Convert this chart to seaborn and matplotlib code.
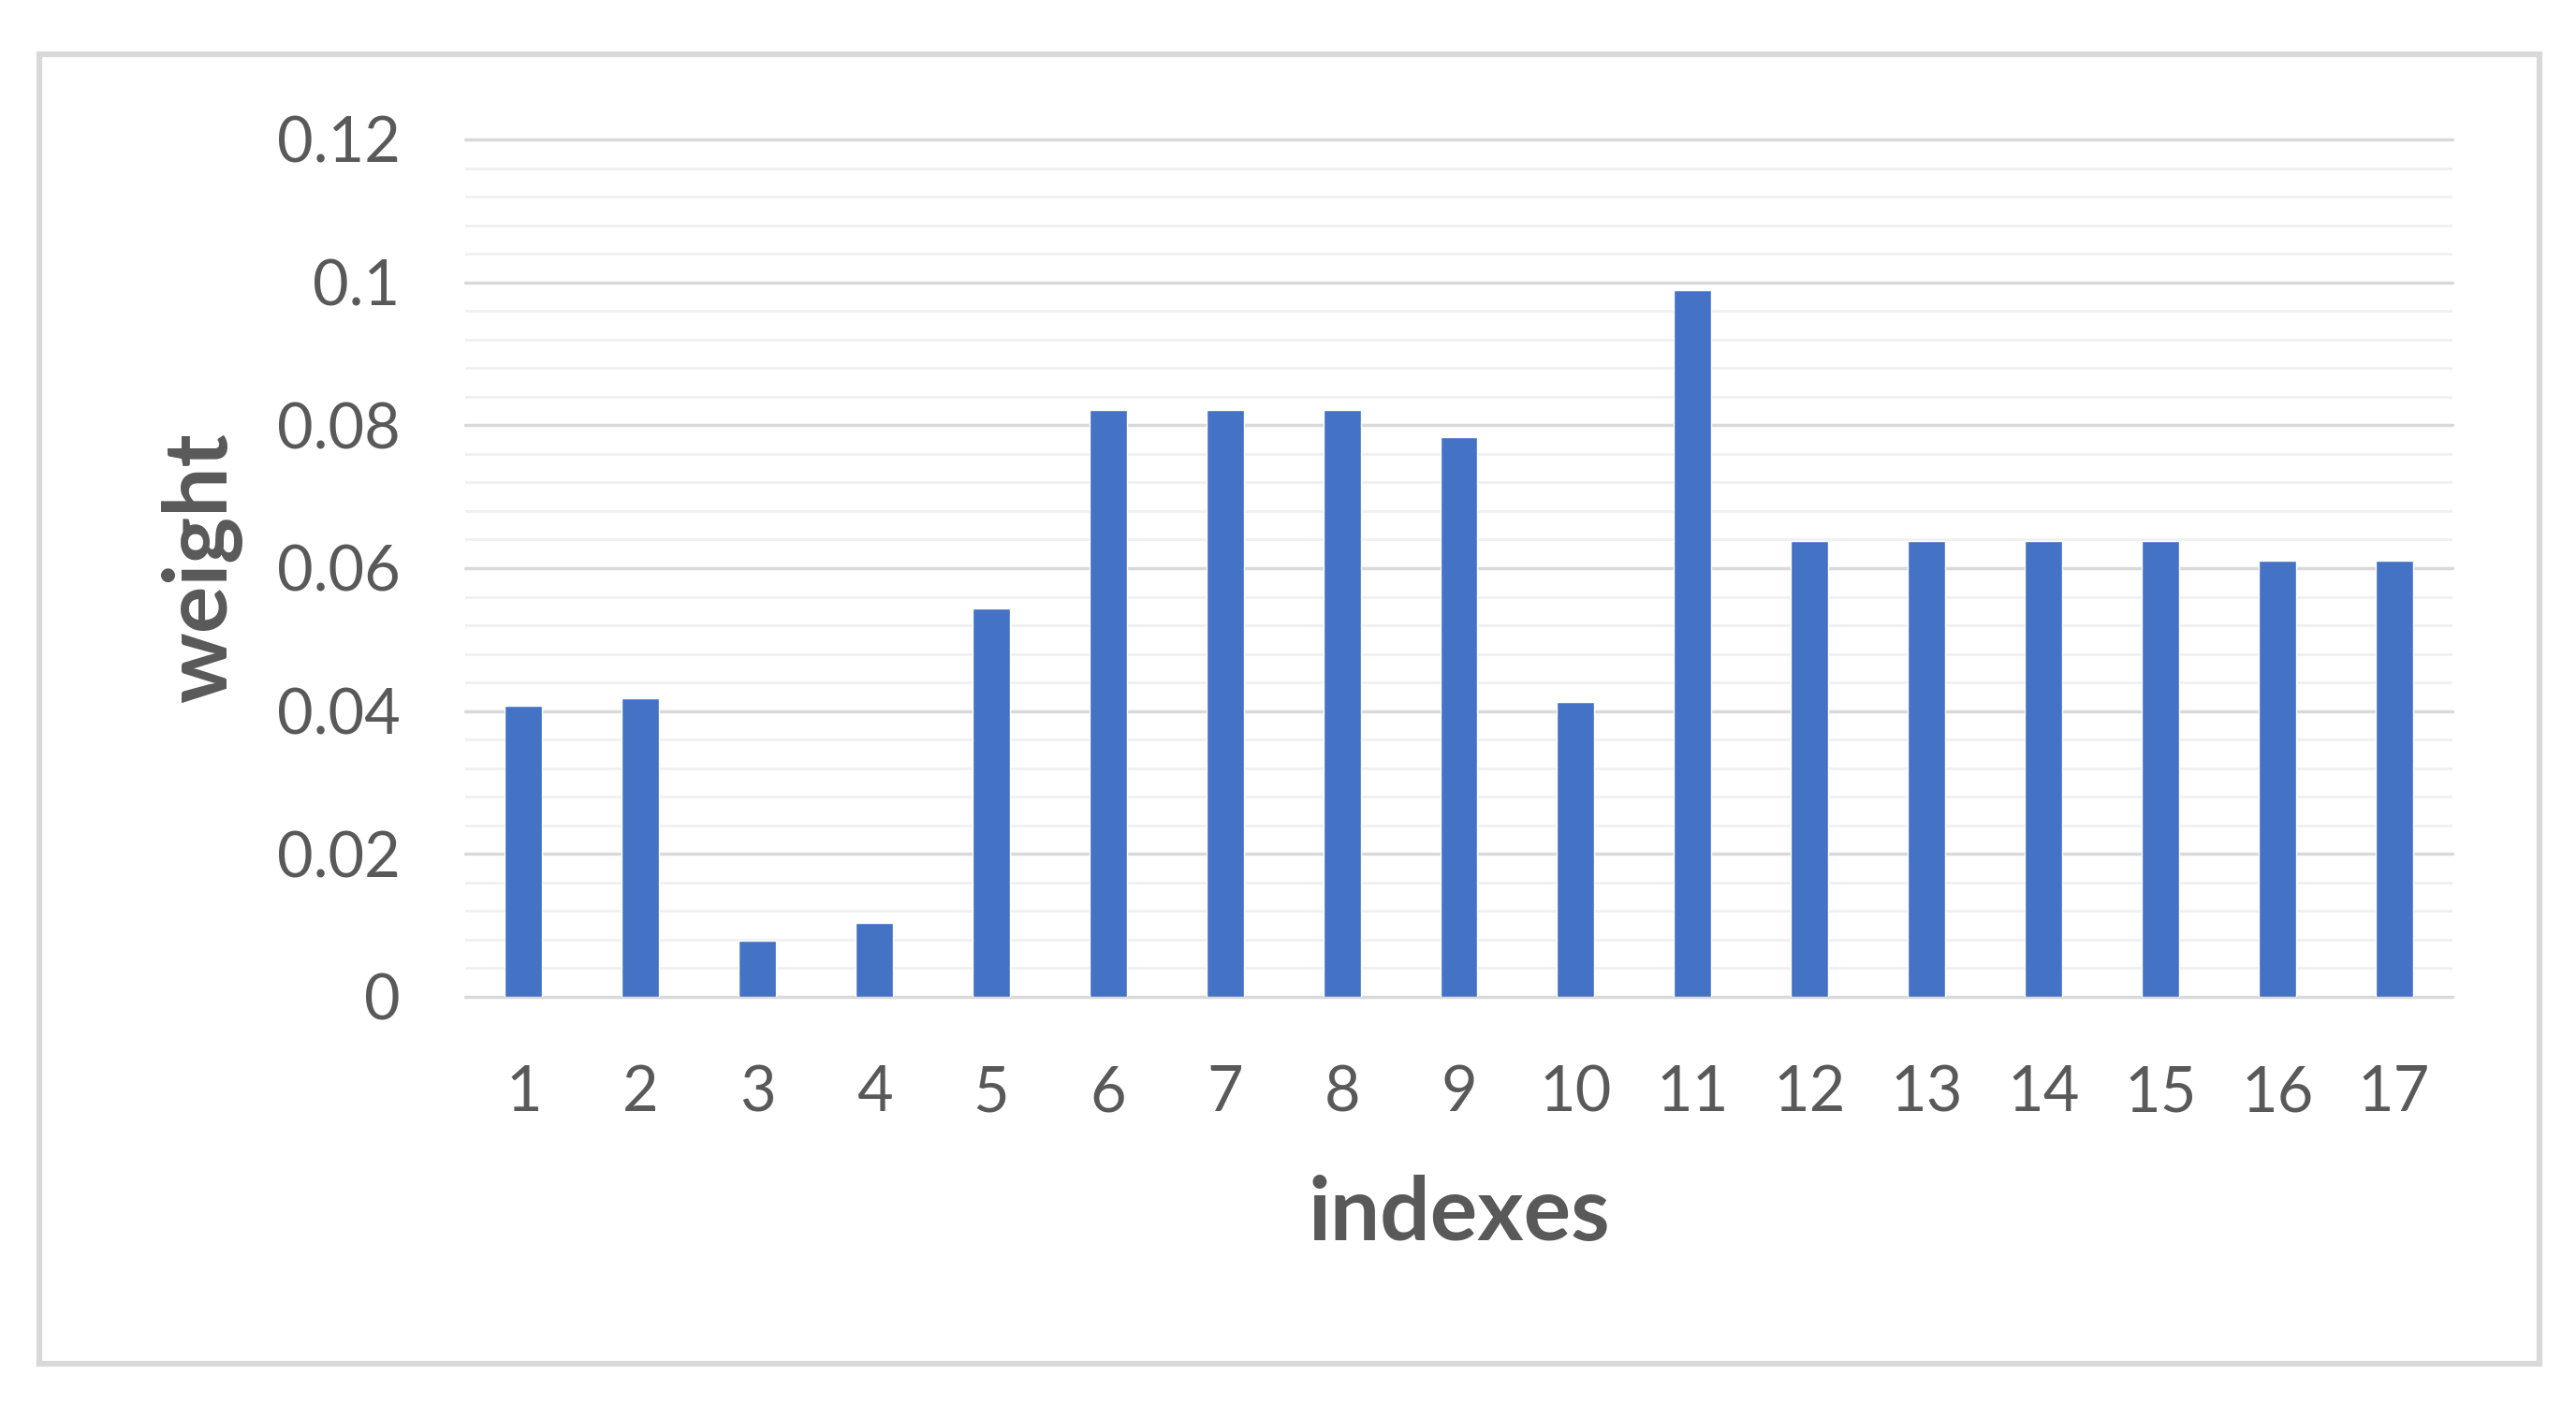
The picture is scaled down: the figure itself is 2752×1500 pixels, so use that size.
import matplotlib
matplotlib.use('Agg')
import matplotlib.pyplot as plt
import seaborn as sns
import pandas as pd
from matplotlib.patches import Rectangle
from matplotlib.ticker import MultipleLocator

indexes = [str(i) for i in range(1, 18)]
weights = [0.0408, 0.0418, 0.0079, 0.0104, 0.0544, 0.0821, 0.0821, 0.0821,
           0.0784, 0.0413, 0.0989, 0.0638, 0.0638, 0.0638, 0.0638, 0.0611, 0.0611]
ytick_values = [0, 0.02, 0.04, 0.06, 0.08, 0.1, 0.12]
ytick_labels = ['0', '0.02', '0.04', '0.06', '0.08', '0.1', '0.12']

df = pd.DataFrame({'indexes': indexes, 'weight': weights})

sns.set_theme(style='white')
plt.rcParams['font.family'] = ['Lato', 'DejaVu Sans']

fig = plt.figure(figsize=(27.52, 15), dpi=100)
ax = fig.add_axes([497 / 2752, 1 - 1065 / 1500, (2620 - 497) / 2752, (1065 - 149) / 1500])

sns.barplot(data=df, x='indexes', y='weight', color='#4472C4', width=0.32,
            saturation=1, ax=ax, zorder=3)

ax.set_ylim(0, 0.12)
ax.set_yticks(ytick_values, ytick_labels)
ax.yaxis.set_minor_locator(MultipleLocator(0.004))
ax.grid(which='major', axis='y', color='#d9d9d9', linewidth=2.5, zorder=1)
ax.grid(which='minor', axis='y', color='#f0f0f0', linewidth=2.0, zorder=0)
for line in ax.get_ygridlines():
    line.set_clip_on(False)
ax.set_axisbelow(True)
for s in ax.spines.values():
    s.set_visible(False)

ax.tick_params(axis='both', which='both', length=0, labelsize=48, labelcolor='#595959')
ax.tick_params(axis='x', pad=52)
ax.tick_params(axis='y', pad=50)
ax.set_xlabel('indexes', fontsize=68, fontweight='bold', color='#595959', labelpad=40)
ax.set_ylabel('weight', fontsize=68, fontweight='bold', color='#595959', labelpad=26)

# outer chart border
fig.patches.append(Rectangle((42 / 2752, 1 - 1457 / 1500), (2713 - 42) / 2752, (1457 - 58) / 1500,
                             transform=fig.transFigure, fill=False, edgecolor='#d9d9d9',
                             linewidth=4.5))

fig.savefig('out.png', dpi=100, facecolor='white')
